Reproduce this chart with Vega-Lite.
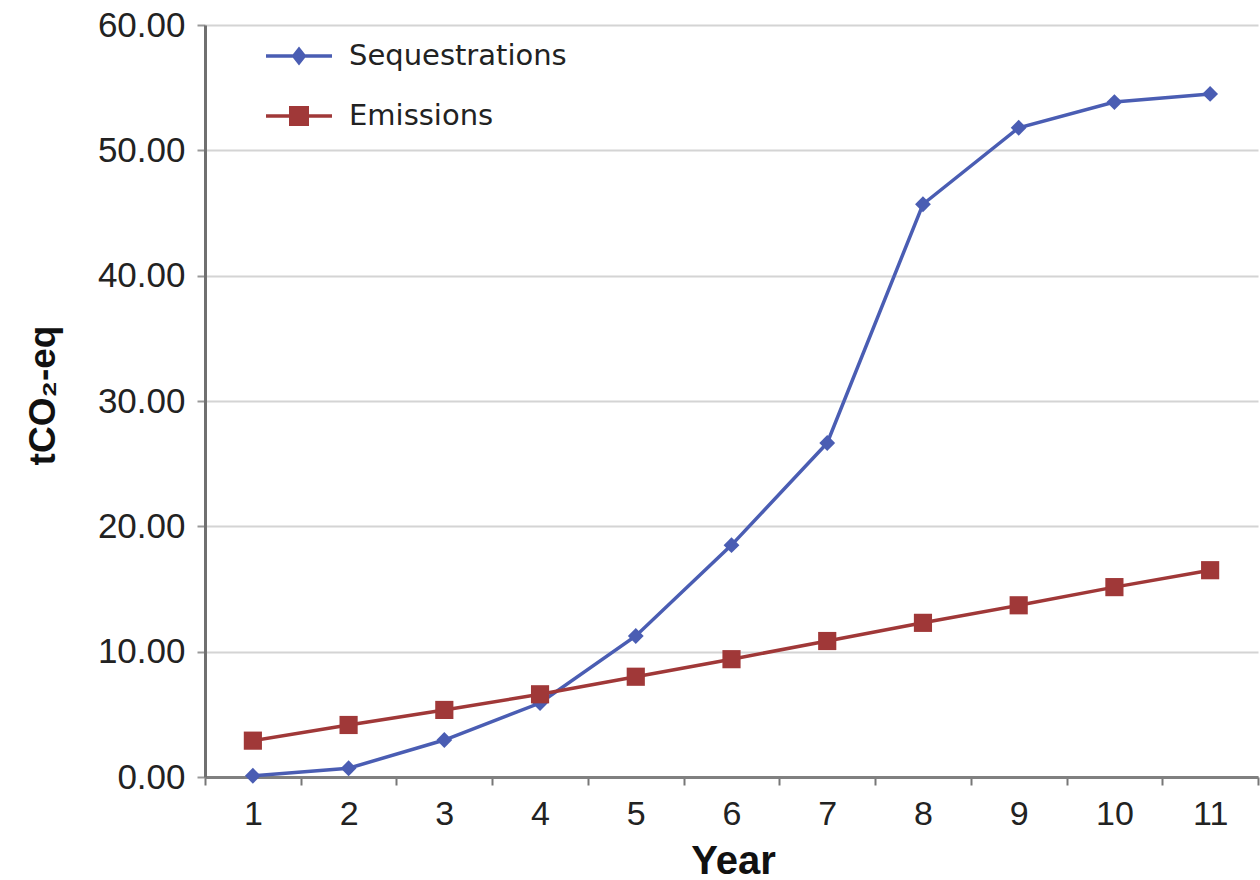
{
  "$schema": "https://vega.github.io/schema/vega-lite/v6.json",
  "width": 1053,
  "height": 752,
  "autosize": {"type": "none"},
  "padding": {"left": 205, "top": 25, "right": 2, "bottom": 103},
  "background": "white",
  "config": {"view": {"stroke": null}, "font": "Liberation Sans"},
  "data": {
    "values": [
      {"year": 1, "series": "Sequestrations", "value": 0.1},
      {"year": 2, "series": "Sequestrations", "value": 0.7},
      {"year": 3, "series": "Sequestrations", "value": 2.95},
      {"year": 4, "series": "Sequestrations", "value": 5.9},
      {"year": 5, "series": "Sequestrations", "value": 11.25},
      {"year": 6, "series": "Sequestrations", "value": 18.5},
      {"year": 7, "series": "Sequestrations", "value": 26.65},
      {"year": 8, "series": "Sequestrations", "value": 45.7},
      {"year": 9, "series": "Sequestrations", "value": 51.8},
      {"year": 10, "series": "Sequestrations", "value": 53.85},
      {"year": 11, "series": "Sequestrations", "value": 54.5},
      {"year": 1, "series": "Emissions", "value": 2.9},
      {"year": 2, "series": "Emissions", "value": 4.15},
      {"year": 3, "series": "Emissions", "value": 5.35},
      {"year": 4, "series": "Emissions", "value": 6.6},
      {"year": 5, "series": "Emissions", "value": 8.0},
      {"year": 6, "series": "Emissions", "value": 9.4},
      {"year": 7, "series": "Emissions", "value": 10.85},
      {"year": 8, "series": "Emissions", "value": 12.3},
      {"year": 9, "series": "Emissions", "value": 13.7},
      {"year": 10, "series": "Emissions", "value": 15.15},
      {"year": 11, "series": "Emissions", "value": 16.5}
    ]
  },
  "encoding": {
    "x": {
      "field": "year",
      "type": "quantitative",
      "scale": {"domain": [0.5, 11.5], "nice": false, "zero": false},
      "axis": {
        "values": [0.5, 1, 1.5, 2, 2.5, 3, 3.5, 4, 4.5, 5, 5.5, 6, 6.5, 7, 7.5, 8, 8.5, 9, 9.5, 10, 10.5, 11, 11.5],
        "labelExpr": "datum.value % 1 === 0 ? format(datum.value, 'd') : ''",
        "labelOverlap": false,
        "labelFontSize": 34,
        "labelColor": "#222222",
        "labelPadding": 12,
        "tickOpacity": {"condition": {"test": "datum.value % 1 !== 0", "value": 1}, "value": 0},
        "tickSize": 8,
        "tickWidth": 2,
        "tickColor": "#777777",
        "domainColor": "#808080",
        "domainWidth": 3,
        "grid": false,
        "title": "Year",
        "titleFont": "Liberation Sans",
        "titleFontSize": 40,
        "titleFontWeight": "bold",
        "titleColor": "#111111",
        "titleX": 528,
        "titleY": 84,
        "titleAlign": "center",
        "titleBaseline": "middle"
      }
    },
    "y": {
      "field": "value",
      "type": "quantitative",
      "scale": {"domain": [0, 60], "nice": false},
      "axis": {
        "values": [0, 10, 20, 30, 40, 50, 60],
        "format": ".2f",
        "labelFontSize": 35,
        "labelColor": "#222222",
        "labelPadding": 12,
        "tickSize": 8,
        "tickWidth": 2,
        "tickColor": "#999999",
        "domainColor": "#707070",
        "domainWidth": 3,
        "grid": true,
        "gridColor": "#d4d4d4",
        "gridWidth": 2,
        "title": "tCO₂-eq",
        "titleFont": "Liberation Sans",
        "titleFontSize": 37,
        "titleFontWeight": "bold",
        "titleColor": "#111111",
        "titleAngle": -90,
        "titleX": -162,
        "titleY": 370,
        "titleAlign": "center",
        "titleBaseline": "middle"
      }
    }
  },
  "layer": [
    {
      "mark": {"type": "line", "strokeWidth": 3.5},
      "encoding": {
        "color": {
          "field": "series",
          "type": "nominal",
          "scale": {"domain": ["Sequestrations", "Emissions"], "range": ["#4a5db3", "#a03838"]},
          "legend": {
            "title": null,
            "orient": "none",
            "legendX": 77,
            "legendY": 14,
            "padding": 0,
            "symbolSize": 900,
            "symbolStrokeWidth": 3.5,
            "labelFont": "DejaVu Sans",
            "labelFontSize": 29,
            "labelColor": "#222222",
            "labelOffset": 33,
            "labelLimit": 400,
            "rowPadding": 28,
            "encode": {
              "symbols": {
                "enter": {
                  "shape": {"signal": "datum.value === 'Sequestrations' ? 'M-2.2,0L2.2,0M0,-0.45L0.35,0L0,0.45L-0.35,0Z' : 'M-2.2,0L2.2,0M-0.55,-0.55L0.55,-0.55L0.55,0.55L-0.55,0.55Z'"}
                },
                "update": {
                  "shape": {"signal": "datum.value === 'Sequestrations' ? 'M-2.2,0L2.2,0M0,-0.45L0.35,0L0,0.45L-0.35,0Z' : 'M-2.2,0L2.2,0M-0.55,-0.55L0.55,-0.55L0.55,0.55L-0.55,0.55Z'"},
                  "fill": {"signal": "datum.value === 'Sequestrations' ? '#4a5db3' : '#a03838'"},
                  "stroke": {"signal": "datum.value === 'Sequestrations' ? '#4a5db3' : '#a03838'"},
                  "strokeWidth": {"value": 3.5},
                  "opacity": {"value": 1},
                  "fillOpacity": {"value": 1},
                  "strokeOpacity": {"value": 1}
                }
              }
            }
          }
        }
      }
    },
    {
      "transform": [{"filter": "datum.series === 'Sequestrations'"}],
      "mark": {"type": "point", "filled": true, "opacity": 1, "shape": "diamond", "size": 250, "color": "#4a5db3"}
    },
    {
      "transform": [{"filter": "datum.series === 'Emissions'"}],
      "mark": {"type": "point", "filled": true, "opacity": 1, "shape": "square", "size": 330, "color": "#a03838"}
    }
  ]
}
